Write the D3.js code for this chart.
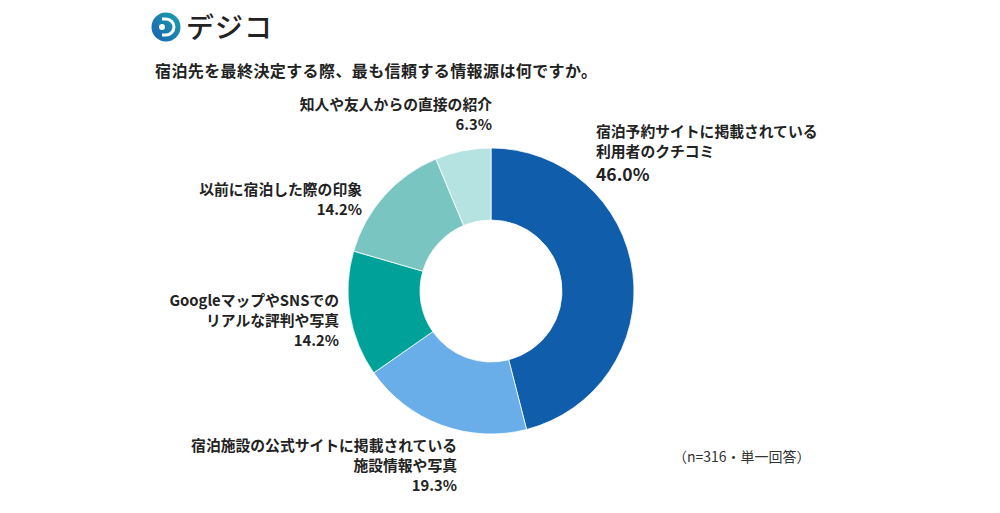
<!DOCTYPE html>
<html lang="ja">
  <head>
    <meta charset="utf-8">
    <title>宿泊先を最終決定する際、最も信頼する情報源</title>
    <script src="https://cdn.jsdelivr.net/npm/d3@7"></script>
    <style>
      body { margin: 0; background: #fff; }
      svg text { font-family: "Noto Sans CJK JP", "Noto Sans", sans-serif; fill: #222; }
    </style>
  </head>
  <body>
    <script type="text/javascript">
      // data, clockwise from 12 o'clock
      var categories = [
        "宿泊予約サイトに掲載されている|利用者のクチコミ",
        "宿泊施設の公式サイトに掲載されている|施設情報や写真",
        "GoogleマップやSNSでの|リアルな評判や写真",
        "以前に宿泊した際の印象",
        "知人や友人からの直接の紹介"
      ];
      var values = [46.0, 19.3, 14.2, 14.2, 6.3];
      var colors = ["#0f5dab", "#69ade9", "#00a199", "#79c5c2", "#b4e3e1"];

      var width = 1000, height = 513;
      var cx = 491, cy = 291, outerR = 143, innerR = 71;

      var svg = d3.select("body")
        .append("svg")
          .attr("width", width)
          .attr("height", height);

      /*
        logo
        */
      var grad = svg.append("defs").append("linearGradient")
          .attr("id", "logoGrad")
          .attr("x1", "0%").attr("y1", "100%")
          .attr("x2", "100%").attr("y2", "0%");
      grad.append("stop").attr("offset", "0%").attr("stop-color", "#1a5fb4");
      grad.append("stop").attr("offset", "100%").attr("stop-color", "#1aa3a8");

      var logo = svg.append("g").attr("transform", "translate(166,27)");
      logo.append("circle").attr("r", 14.5).attr("fill", "url(#logoGrad)");
      logo.append("path")
          .attr("d", "M-4,-8 L0,-8 A8,8 0 0 1 0,8 L-4,8")
          .attr("fill", "none")
          .attr("stroke", "#fff")
          .attr("stroke-width", 3);
      logo.append("circle").attr("cx", -4).attr("cy", 0).attr("r", 3).attr("fill", "#fff");

      svg.append("text")
          .attr("x", 186)
          .attr("y", 38)
          .style("font-size", "28px")
          .style("font-weight", 500)
          .style("letter-spacing", "1px")
          .text("デジコ");

      // title
      svg.append("text")
          .attr("x", 155)
          .attr("y", 71)
          .attr("dy", "0.35em")
          .style("font-size", "16px")
          .style("font-weight", 700)
          .style("letter-spacing", "0.4px")
          .text("宿泊先を最終決定する際、最も信頼する情報源は何ですか。");

      /*
        donut
        */
      var pie = d3.pie().sort(null).value(function (d) { return d; });
      var arc = d3.arc().innerRadius(innerR).outerRadius(outerR);

      svg.append("g")
          .attr("transform", "translate(" + cx + "," + cy + ")")
        .selectAll("path")
        .data(pie(values))
        .enter()
        .append("path")
          .attr("d", arc)
          .attr("fill", function (d, i) { return colors[i]; })
          .attr("stroke", "#fff")
          .attr("stroke-width", 0.8);

      // label placement: anchor x, first line center y, anchor side
      var labelPos = [
        { x: 596, y: 132, anchor: "start" },
        { x: 457, y: 446, anchor: "end" },
        { x: 339, y: 301, anchor: "end" },
        { x: 362, y: 190, anchor: "end" },
        { x: 492, y: 105, anchor: "end" }
      ];

      categories.forEach(function (c, i) {
        var lines = c.split("|");
        var p = labelPos[i];
        var t = svg.append("text")
            .attr("text-anchor", p.anchor)
            .style("font-size", "14.8px")
            .style("font-weight", 700);
        lines.forEach(function (l, j) {
          t.append("tspan")
              .attr("x", p.x)
              .attr("y", p.y + j * 20)
              .attr("dy", "0.35em")
              .text(l);
        });
        t.append("tspan")
            .attr("x", p.x)
            .attr("y", p.y + lines.length * 20 + (i === 0 ? 3 : 0))
            .attr("dy", "0.35em")
            .style("font-size", i === 0 ? "17.5px" : "14.8px")
            .text(values[i].toFixed(1) + "%");
      });

      // foot note
      svg.append("text")
          .attr("x", 673)
          .attr("y", 457)
          .attr("dy", "0.35em")
          .style("font-size", "14px")
          .style("fill", "#333")
          .text("（n=316・単一回答）");
    </script>
  </body>
</html>
